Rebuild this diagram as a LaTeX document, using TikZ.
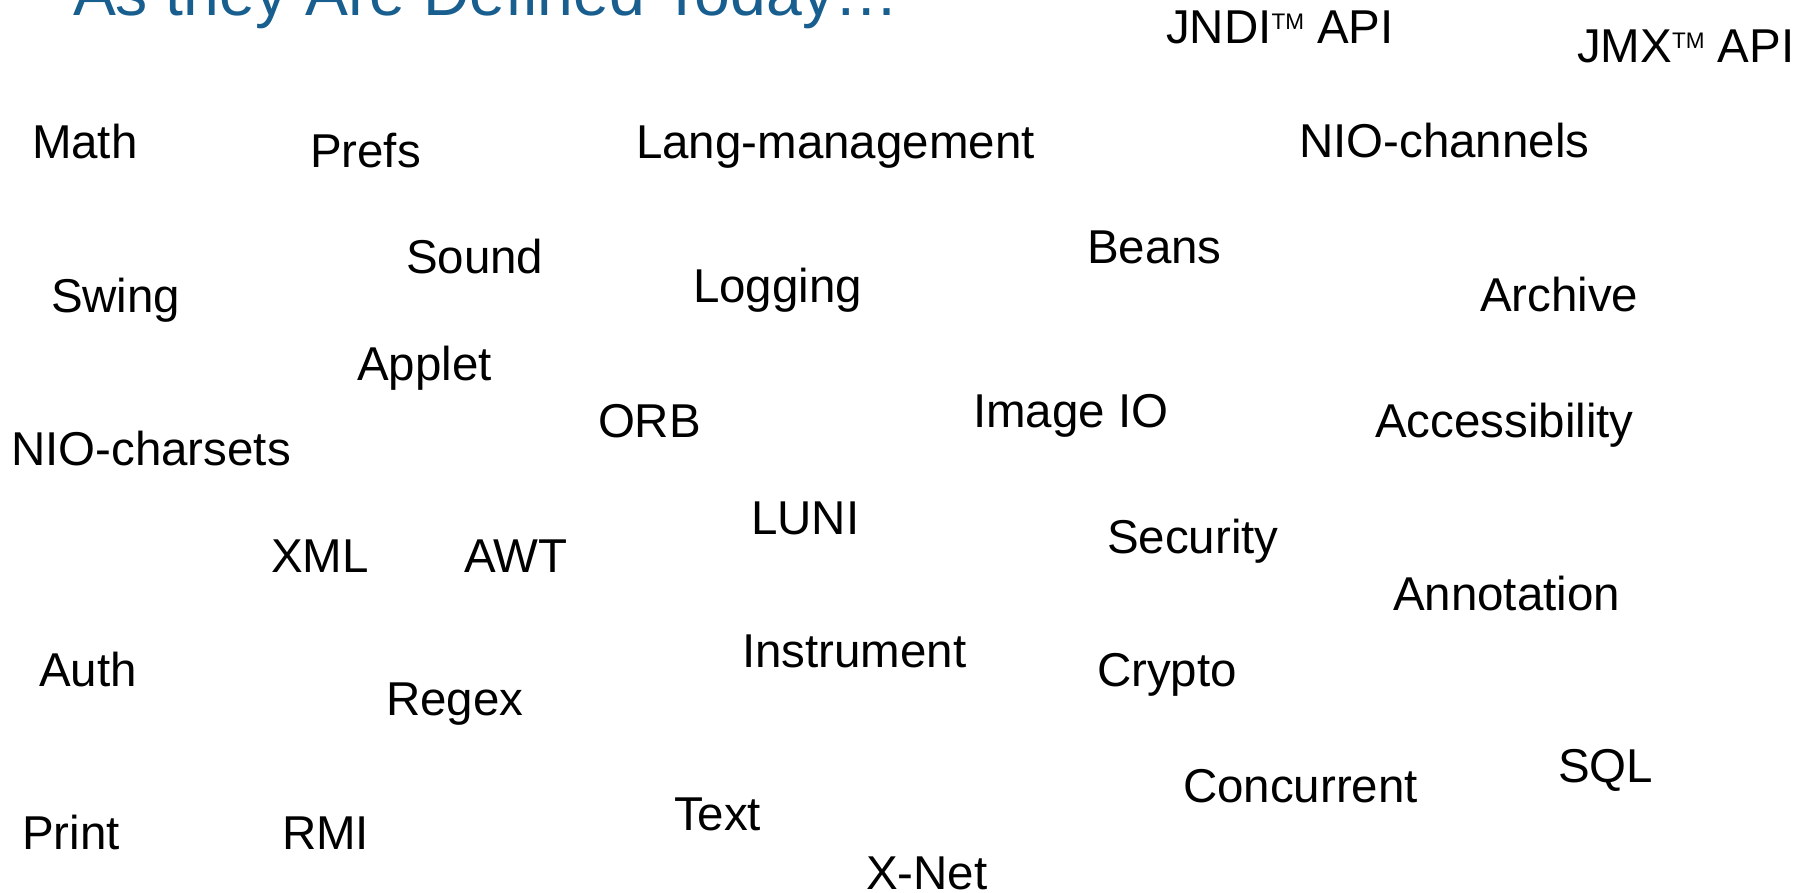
\documentclass[tikz,border=0pt]{standalone}
\usepackage{fontspec}
\setmainfont{Liberation Sans}
\definecolor{titleblue}{RGB}{24,94,142}
\newcommand{\tmark}{\raisebox{14.5pt}{\fontsize{22.5}{22.5}\selectfont TM}}
\tikzset{
  lbl/.style={anchor=base west, inner sep=0pt, outer sep=0pt, font=\fontsize{47.5}{57}\selectfont},
  ttl/.style={anchor=base west, inner sep=0pt, outer sep=0pt, text=titleblue, font=\fontsize{64.3}{77}\selectfont}
}
\begin{document}
\begin{tikzpicture}[x=1pt,y=-1pt]
\useasboundingbox (0,0) rectangle (1808,893);
\clip (0,0) rectangle (1808,893);
\fill[white] (0,0) rectangle (1808,893);
% heading, partly above the top edge
\node[ttl] (title) at (73,16) {As they Are Defined Today…};
% package names
\node[lbl] (jndi) at (1166,44) {JNDI\tmark{} API};
\node[lbl] (jmx) at (1577,63) {JMX\tmark{} API};
\node[lbl] (math) at (32,159) {Math};
\node[lbl] (prefs) at (310,168) {Prefs};
\node[lbl] (langm) at (636,159) {Lang-management};
\node[lbl] (nioch) at (1299,158) {NIO-channels};
\node[lbl] (sound) at (406,274) {Sound};
\node[lbl] (beans) at (1087,264) {Beans};
\node[lbl] (logging) at (693,303) {Logging};
\node[lbl] (swing) at (51,313) {Swing};
\node[lbl] (archive) at (1480,312) {Archive};
\node[lbl] (applet) at (357,381) {Applet};
\node[lbl] (imageio) at (973,428) {Image IO};
\node[lbl] (orb) at (598,437) {ORB};
\node[lbl] (access) at (1375,437) {Accessibility};
\node[lbl] (niocs) at (11,465) {NIO-charsets};
\node[lbl] (luni) at (751,534) {LUNI};
\node[lbl] (security) at (1107,553) {Security};
\node[lbl] (xml) at (271,572) {XML};
\node[lbl] (awt) at (464,572) {AWT};
\node[lbl] (annot) at (1393,610) {Annotation};
\node[lbl] (instr) at (742,667) {Instrument};
\node[lbl] (auth) at (39,686) {Auth};
\node[lbl] (crypto) at (1097,686) {Crypto};
\node[lbl] (regex) at (386,715) {Regex};
\node[lbl] (sql) at (1558,782) {SQL};
\node[lbl] (concur) at (1183,802) {Concurrent};
\node[lbl] (text) at (674,830) {Text};
\node[lbl] (print) at (22,849) {Print};
\node[lbl] (rmi) at (282,849) {RMI};
\node[lbl] (xnet) at (866,889) {X-Net};
\end{tikzpicture}
\end{document}
